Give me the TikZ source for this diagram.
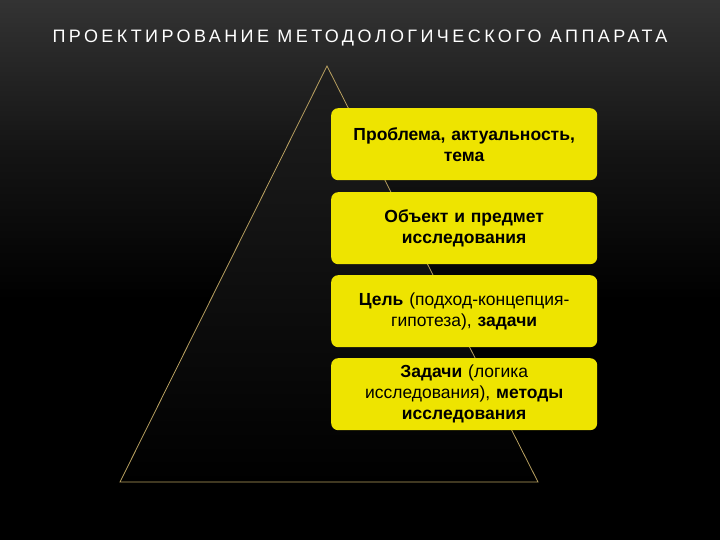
\documentclass[tikz,border=0pt]{standalone}
\usepackage{fontspec}
\setmainfont{Liberation Sans}
\definecolor{boxy}{HTML}{EEE400}
\definecolor{edge}{HTML}{B8A060}
\begin{document}
\begin{tikzpicture}[x=1pt,y=-1pt,
  box/.style={fill=boxy,rounded corners=7pt,minimum width=266pt,minimum height=72pt,align=center,font=\fontsize{17.5}{21}\selectfont,text width=262pt,inner sep=0pt,anchor=north west}]
\useasboundingbox (0,0) rectangle (720,540);
\fill[black] (0,0) rectangle (720,540);
\shade[top color={black!80!white},bottom color=black,middle color={black!92!white}] (0,0) rectangle (720,300);
\node[text=white,font=\fontsize{18}{18}\selectfont\addfontfeature{LetterSpace=19}] (title) at (360,38) {ПРОЕКТИРОВАНИЕ МЕТОДОЛОГИЧЕСКОГО АППАРАТА};
\coordinate (apex) at (327,66);
\coordinate (bl) at (120,482);
\coordinate (br) at (538,482);
\shade[top color={black!88!white},bottom color=black,draw=edge,line width=0.8pt] (apex) -- (br) -- (bl) -- cycle;
\node[box] (b1) at (331,108) {\textbf{Проблема, актуальность,}\\\textbf{тема}};
\node[box] (b2) at (331,192) {\textbf{Объект и предмет}\\\textbf{исследования}};
\node[box] (b3) at (331,275) {\textbf{Цель} (подход-концепция-\\гипотеза), \textbf{задачи}};
\node[box] (b4) at (331,358) {\textbf{Задачи} (логика\\исследования), \textbf{методы}\\\textbf{исследования}};
\end{tikzpicture}
\end{document}
